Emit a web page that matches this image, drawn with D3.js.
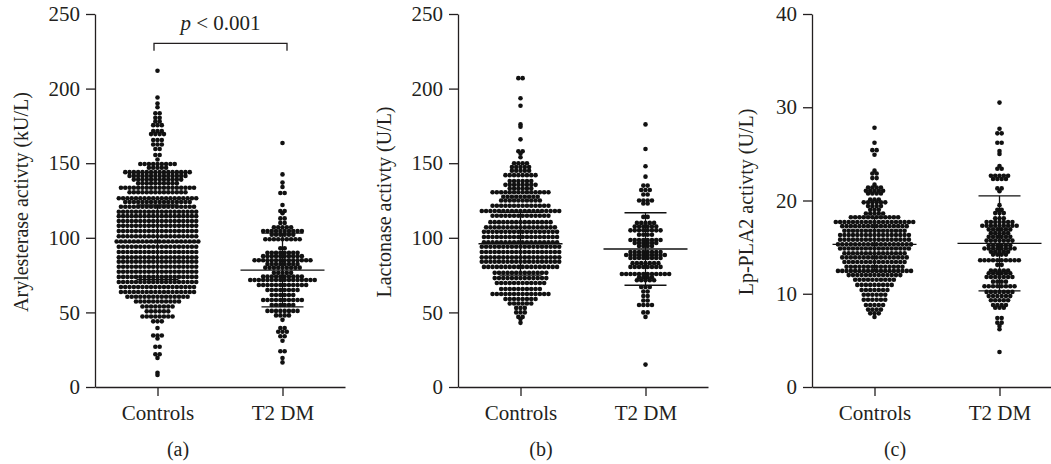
<!DOCTYPE html>
<html>
<head>
<meta charset="utf-8">
<title>Enzyme activity scatter</title>
<script src="https://d3js.org/d3.v7.min.js"></script>
<style>
  body { margin: 0; background: #fff; }
  text { font-family: "Liberation Serif", "DejaVu Serif", serif; fill: #231f20; }
  .axis path, .axis line { stroke: #231f20; stroke-width: 1.3; }
</style>
</head>
<body>
<div id="chart"></div>
<script>
// groups and tick values
const groups = ["Controls", "T2 DM"];
const activityTicks = [0, 50, 100, 150, 200, 250];
const lpTicks = [0, 10, 20, 30, 40];

// values as [value, number of dots in that row]
const arylControls = [[212,1],[194,1],[190,1],[187.5,1],[183.5,2],[180.5,2],[178,2],[175.5,3],[171.5,3],[169.5,4],
  [165.5,3],[162.5,3],[159.5,2],[155.5,2],[152.5,1],[149.5,9],[147,5],[144,16],[141.5,14],[139,12],[136.5,10],
  [133.5,18],[130.5,14],[126.5,19],[124,16],[120.8,18],[117.5,19],[114.5,19],[111.2,19],[108,19],[104.5,19],
  [101,19],[97.5,20],[94,19],[90.5,19],[87,19],[84,19],[80.6,19],[77.2,19],[73.8,19],[70.4,19],[67,18],
  [63.7,18],[60.5,15],[57.3,11],[54,8],[50.7,6],[47.3,8],[44,3],[39.5,1],[34.5,3],[32.5,1],[27,2],[22,2],
  [19.5,1],[9.5,1],[8,1]];
const arylT2dm = [[163.5,1],[142.5,1],[137,1],[134,1],[130,2],[122,1],[118,2],[116.5,1],[113,2],[110,2],[107,5],
  [104.5,10],[102,6],[99,9],[93,2],[90,8],[87.7,10],[85,14],[82.4,8],[80,9],[76.5,5],[74,10],[71.7,16],
  [68.4,12],[65,8],[61.7,6],[58.3,10],[55,6],[51,8],[48,4],[45,1],[39.5,2],[37,3],[34,2],[31,1],[24,2],
  [19.4,1],[16.5,1]];
const lactControls = [[207,2],[193.5,1],[188.5,1],[176,1],[174.5,1],[166,1],[158,2],[156.5,1],[154,1],[150,4],
  [147.5,5],[145,5],[142,8],[138,6],[135.5,8],[133,6],[130.5,14],[127.5,9],[125,10],[121.5,14],[118,19],
  [114.8,14],[110.5,15],[107,17],[104,18],[100.5,18],[97,18],[94,19],[90.5,19],[87,19],[84,19],[80.5,18],
  [76.5,13],[73,13],[69.7,12],[65.7,10],[62.3,14],[59,8],[56,6],[53,3],[50,3],[47,2],[45.5,1],[43,1]];
const lactT2dm = [[176,1],[159.5,1],[148,1],[141,1],[135,2],[132,3],[129,2],[125,4],[123,2],[114,2],[110,5],
  [107.5,6],[105,8],[102,4],[98.5,8],[96.5,6],[94.5,4],[90.5,8],[88.5,10],[86.5,8],[83,7],[80.5,8],[75.7,12],
  [73.5,4],[71.5,5],[67,3],[64,2],[61,2],[58,2],[55,4],[50,2],[47,1],[15,1]];
const lpControls = [[27.8,1],[26.2,1],[25.4,2],[24.9,1],[23.2,1],[22.9,2],[22.4,2],[21.7,1],[21.4,4],[21.05,5],
  [20.75,4],[20.1,3],[19.8,6],[19.4,4],[19,3],[18.6,5],[18.2,12],[17.7,19],[17.25,16],[16.75,15],[16.3,17],
  [15.8,17],[15.3,18],[14.85,17],[14.35,15],[13.9,16],[13.4,15],[12.9,14],[12.45,18],[12,13],[11.5,10],
  [10.95,9],[10.4,7],[9.9,6],[9.35,6],[8.8,5],[8.3,4],[7.9,3],[7.5,1]];
const lpT2dm = [[30.5,1],[27.7,1],[27.2,2],[26.2,2],[25.3,1],[25,1],[23.7,1],[23.4,2],[22.65,5],[22.3,4],[21.3,2],
  [21,1],[19.5,1],[19,2],[18.65,3],[18.1,3],[17.7,7],[17.3,9],[16.9,6],[16.5,5],[16.1,6],[15.7,7],[15.2,6],
  [14.85,8],[14.5,5],[14.2,4],[13.6,10],[13.1,2],[12.5,5],[12.2,6],[11.8,7],[11.3,4],[10.8,8],[10.2,7],
  [9.75,6],[9.3,5],[8.8,4],[8.5,3],[7.4,2],[6.9,2],[6.55,1],[6.2,1],[3.75,1]];

// mean and SD lines, per group
const arylMean = [97, 78.4], arylSd = [25, 24.7];
const lactMean = [96, 92.5], lactSd = [21, 24.3];
const lpMean = [15.3, 15.4], lpSd = [2.9, 5.1];

const panels = [
  {left: 95, yMax: 250, ticks: activityTicks, title: "Arylesterase activty (kU/L)", titleX: 28, tag: "(a)",
   data: [arylControls, arylT2dm], mean: arylMean, sd: arylSd, pval: "< 0.001"},
  {left: 458, yMax: 250, ticks: activityTicks, title: "Lactonase activty (U/L)", titleX: 391, tag: "(b)",
   data: [lactControls, lactT2dm], mean: lactMean, sd: lactSd},
  {left: 812, yMax: 40, ticks: lpTicks, title: "Lp-PLA2 activty (U/L)", titleX: 753, tag: "(c)",
   data: [lpControls, lpT2dm], mean: lpMean, sd: lpSd}
];

const width = 1051, height = 464;
const plotBottom = 387, plotTop = 14, axisLen = 250;
const dotStep = 4.3, dotR = 2.3;

const svg = d3.select("#chart").append("svg")
    .attr("width", width)
    .attr("height", height);

panels.forEach(function(p) {
  let y = d3.scaleLinear().domain([0, p.yMax]).range([plotBottom, plotTop]);
  let x = d3.scalePoint().domain(groups).range([p.left, p.left + axisLen]).padding(0.5);

  let g = svg.append("g");

  // dots: each row centred on the group position
  groups.forEach(function(grp, gi) {
    let pts = [];
    p.data[gi].forEach(function(r) {
      for (let i = 0; i < r[1]; i++) pts.push({v: r[0], off: (i - (r[1] - 1) / 2) * dotStep});
    });
    g.append("g").selectAll("circle")
      .data(pts)
      .enter()
      .append("circle")
      .attr("cx", d => x(grp) + d.off)
      .attr("cy", d => y(d.v))
      .attr("r", dotR)
      .attr("fill", "#111");

    // mean and SD bars
    let cx = x(grp), m = p.mean[gi], s = p.sd[gi];
    let lines = [
      [cx - 42, y(m), cx + 42, y(m)],
      [cx - 21, y(m + s), cx + 21, y(m + s)],
      [cx - 21, y(m - s), cx + 21, y(m - s)],
      [cx, y(m + s), cx, y(m - s)]
    ];
    g.append("g").selectAll("line")
      .data(lines)
      .enter()
      .append("line")
      .attr("x1", d => d[0]).attr("y1", d => d[1])
      .attr("x2", d => d[2]).attr("y2", d => d[3])
      .attr("stroke", "#111")
      .attr("stroke-width", 1.3);
  });

  // axes
  g.append("g")
    .attr("class", "axis")
    .attr("transform", "translate(" + p.left + ",0)")
    .call(d3.axisLeft(y).tickValues(p.ticks).tickSize(9).tickSizeOuter(0).tickPadding(6))
    .selectAll("text").style("font-size", "21px").style("font-family", "Liberation Serif, serif");

  g.append("g")
    .attr("class", "axis")
    .attr("transform", "translate(0," + plotBottom + ")")
    .call(d3.axisBottom(x).tickSize(9).tickSizeOuter(0).tickPadding(9))
    .selectAll("text").style("font-size", "21px").style("font-family", "Liberation Serif, serif");

  g.selectAll(".axis text").attr("fill", "#231f20");

  // y title
  g.append("text")
    .attr("transform", "translate(" + p.titleX + ",202) rotate(-90)")
    .attr("text-anchor", "middle")
    .attr("font-size", "20px")
    .text(p.title);

  // panel tag
  g.append("text")
    .attr("x", p.left + 83)
    .attr("y", 456)
    .attr("text-anchor", "middle")
    .attr("font-size", "20px")
    .text(p.tag);

  // significance bracket
  if (p.pval) {
    let x1 = x(groups[0]) - 3.5, x2 = x(groups[1]) + 4.5;
    g.append("path")
      .attr("d", "M" + x1 + ",50.7V43.3H" + x2 + "V50.7")
      .attr("fill", "none")
      .attr("stroke", "#231f20")
      .attr("stroke-width", 1.3);
    let t = g.append("text")
      .attr("x", (x1 + x2) / 2)
      .attr("y", 30)
      .attr("text-anchor", "middle")
      .attr("font-size", "21px");
    t.append("tspan").attr("font-style", "italic").text("p");
    t.append("tspan").text(" " + p.pval);
  }
});
</script>
</body>
</html>
